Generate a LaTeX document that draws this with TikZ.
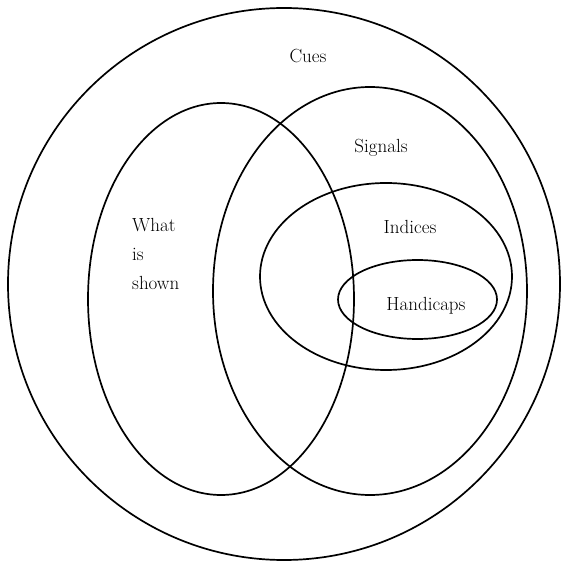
\documentclass[tikz,border=0pt]{standalone}
\usepackage{fontspec}
\tikzset{
  outline/.style={draw=black, line width=1.7pt},
  lbl/.style={font=\fontsize{19}{22}\selectfont\addfontfeature{LetterSpace=8}, inner sep=0pt}
}
\begin{document}
\begin{tikzpicture}[x=1pt,y=-1pt]
  \useasboundingbox[fill=white] (0,0) rectangle (568,561);
  % outer circle: Cues
  \draw[outline] (284,284) circle [radius=276];
  % What is shown
  \draw[outline] (221,299) ellipse [x radius=133, y radius=196];
  % Signals
  \draw[outline] (370,291) ellipse [x radius=157, y radius=204];
  % Indices
  \draw[outline] (386,276.5) ellipse [x radius=126, y radius=93.5];
  % Handicaps
  \draw[outline] (417.5,299.5) ellipse [x radius=79.5, y radius=39.5];
  % labels
  \node[lbl] (cues) at (308,56) {Cues};
  \node[lbl] (signals) at (381,148) {Signals};
  \node[lbl] (indices) at (410,227) {Indices};
  \node[lbl] (handicaps) at (426,306) {Handicaps};
  \node[lbl, anchor=base west] (what) at (132,232) {What};
  \node[lbl, anchor=base west] (is) at (132,261) {is};
  \node[lbl, anchor=base west] (shown) at (132,290) {shown};
\end{tikzpicture}
\end{document}
